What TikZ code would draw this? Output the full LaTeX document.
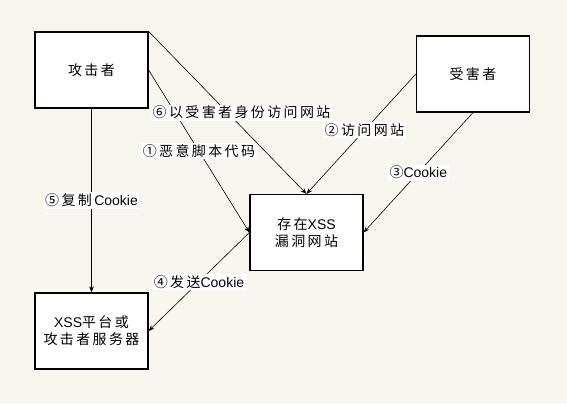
\documentclass[tikz,border=0pt]{standalone}
\usepackage{fontspec}
\setmainfont{Noto Sans CJK SC}
\newfontfamily\cjk[LetterSpace=17]{Noto Sans CJK SC}
\newfontfamily\lat{Liberation Sans}
\usetikzlibrary{arrows.meta}
\definecolor{paper}{RGB}{249,246,240}

\begin{document}
\begin{tikzpicture}[x=1pt,y=-1pt,font=\fontsize{14}{17}\selectfont,
  box/.style={draw, line width=1.2pt, fill=white, minimum width=113pt, minimum height=76pt, align=center, inner sep=0pt},
  link/.style={line width=.6pt, -{Stealth[length=6pt,width=4.5pt]}},
  tag/.style={fill=white, inner sep=1.5pt}]
\fill[paper] (0,0) rectangle (567,404);
\node[box] (atk) at (91.5,70) {\cjk 攻击者};
\node[box] (vic) at (473,74) {\cjk 受害者};
\node[box] (site) at (306.5,232.5) {{\cjk 存在}{\lat XSS}\\{\cjk 漏洞网站}};
\node[box] (srv) at (91.5,331) {{\lat XSS}{\cjk 平台或}\\{\cjk 攻击者服务器}};
\draw[link] (atk.east) -- node[tag] {{\cjk ①恶意脚本代码}} (site.west);
\draw[link] (vic.west) -- node[tag,pos=.47] {{\cjk ②访问网站}} (site.north);
\draw[link] (vic.south) -- node[tag] {{\cjk ③}{\lat Cookie}} (site.east);
\draw[link] (site.west) -- node[tag] {{\cjk ④发送}{\lat Cookie}} (srv.east);
\draw[link] (atk.south) -- node[tag] {{\cjk ⑤复制}\,{\lat Cookie}} (srv.north);
\draw[link] (atk.north east) -- node[tag,xshift=14pt] {{\cjk ⑥以受害者身份访问网站}} (site.north);
\end{tikzpicture}
\end{document}
